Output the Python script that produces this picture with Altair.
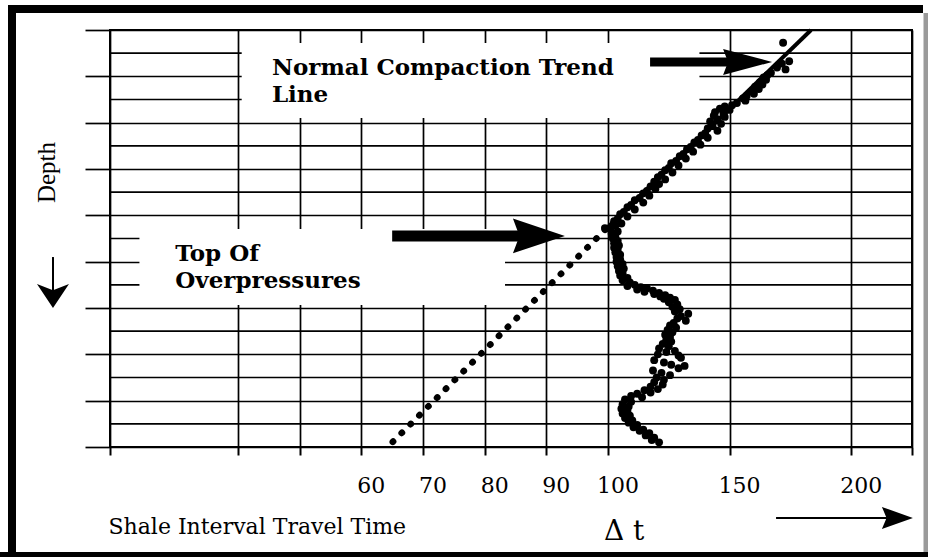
import altair as alt
import pandas as pd

# ---- Sonic log samples: depth (grid units, increasing downward) vs interval transit time ----
# Section that follows the normal compaction trend
normal_depth = [0.55, 1.35, 1.45, 1.62, 1.70, 1.85, 1.95, 2.05, 2.15, 2.25,
                2.35, 2.45, 2.55, 2.65, 2.75, 2.85, 2.95, 3.05, 3.15, 3.25,
                3.30, 3.40, 3.45, 3.55, 3.60, 3.70, 3.75, 3.85, 3.95, 4.05,
                4.15, 4.25, 4.35, 4.45, 4.55, 4.65, 4.75, 4.85, 4.95, 5.05,
                5.15, 5.25, 5.35, 5.45, 5.55, 5.65, 5.75, 5.85, 5.95, 6.05,
                6.15, 6.25, 6.35, 6.45, 6.55, 6.65, 6.75, 6.85, 6.95, 7.05,
                7.15, 7.25, 7.35, 7.45, 7.55, 7.65, 7.75, 7.85, 7.95, 8.05,
                8.15, 8.25, 8.35, 8.45]
normal_dt = [172, 174.5, 171.5, 169.5, 173, 167, 165.5, 164, 165, 162.5,
             163.5, 160.5, 162, 159, 160, 157, 155.5, 156.5, 153, 151,
             148, 146, 150, 144, 147.5, 143.5, 148, 145, 142, 146.5,
             143, 141, 145, 140, 138.5, 141, 137, 135.5, 138, 134,
             132.5, 135, 131, 129.5, 132, 128, 126, 129, 125, 123.5,
             126.5, 122, 120.5, 123.5, 119, 121, 117.5, 119.5, 116, 114.5,
             117, 113, 111, 114.5, 109.5, 108, 111, 106.5, 105, 108,
             104, 102.5, 105.5, 103]

# Section below the top of overpressures
over_depth = [8.55, 8.60, 8.70, 8.80, 8.90, 9.00, 9.10, 9.20, 9.30, 9.40,
              9.50, 9.60, 9.70, 9.80, 9.90, 10.00, 10.10, 10.20, 10.30, 10.40,
              10.50, 10.60, 10.70, 10.80, 10.90, 11.00, 11.05, 11.10, 11.15, 11.20,
              11.25, 11.30, 11.35, 11.40, 11.45, 11.50, 11.55, 11.60, 11.65, 11.75,
              11.85, 11.95, 12.05, 12.15, 12.25, 12.35, 12.45, 12.55, 12.65, 12.75,
              12.85, 12.95, 13.05, 13.15, 13.25, 13.35, 13.45, 13.55, 13.65, 13.75,
              13.85, 13.90, 14.00, 14.05, 14.15, 14.25, 14.35, 14.45, 14.50, 14.60,
              14.70, 14.80, 14.90, 15.00, 15.10, 15.20, 15.30, 15.40, 15.50, 15.55,
              15.65, 15.70, 15.80, 15.85, 15.95, 16.05, 16.15, 16.25, 16.35, 16.45,
              16.55, 16.65, 16.75, 16.85, 16.95, 17.05, 17.15, 17.25, 17.30, 17.40,
              17.50, 17.60, 17.70, 17.80]
over_dt = [99.5, 101, 104, 101.5, 103, 102, 104, 102.5, 104.5, 102.5,
           104, 103, 105, 103.5, 105, 103.5, 106, 104, 106.5, 104.5,
           106, 105, 108, 106, 109, 111, 108, 113.5, 116, 112,
           118.5, 115, 121, 119, 123.5, 121.5, 125.5, 123, 127.5, 125,
           128.5, 126.5, 129.5, 127.5, 133, 130, 128.5, 132, 127, 125.5,
           128, 124.5, 126.5, 123.5, 125.5, 124, 126, 122.5, 125, 121,
           127.5, 124, 120.5, 129, 130, 119, 123, 126, 131.5, 129,
           118.5, 122, 125.5, 120, 123, 119, 122.5, 117.5, 120.5, 115,
           117.5, 112, 109.5, 114, 107, 109.5, 106, 108.5, 105.5, 108,
           106, 109, 107, 110, 108.5, 112, 110.5, 114.5, 113, 117,
           115.5, 119, 118, 121]

# Normal compaction trend: solid where fitted, dotted where extrapolated
trend_dt = [183.5, 100]
trend_depth = [0, 8.5]
extrap_dt = [100, 65.1]
extrap_depth = [8.5, 17.78]

# Axis ticks, labels and grid
x_ticks = [20, 40, 50, 60, 70, 80, 90, 100, 150, 200, 225]
x_labels = [60, 70, 80, 90, 100, 150, 200]
major_depths = [0, 2, 4, 6, 8, 10, 12, 14, 16, 18]
minor_depths = [1, 3, 5, 7, 9, 11, 13, 15, 17]
X_LO, X_HI = 20, 225
DEPTH_MAX = 18

# Piecewise transit-time scale: 40-100 expanded, 100-225 compressed
x_scale = alt.Scale(domain=[20, 40, 100, 225], range=[0, 128, 498, 802], nice=False, zero=False)
y_scale = alt.Scale(domain=[0, DEPTH_MAX], reverse=True, nice=False, zero=False)

x_axis = alt.Axis(
    values=x_ticks, labels=False,
    grid=True, gridColor="black", gridWidth=1.7, gridOpacity=1,
    ticks=True, tickSize=8, tickColor="black", tickWidth=2,
    domain=False,
    title="Shale Interval Travel Time", titleFont="DejaVu Serif", titleFontSize=22,
    titleFontWeight="normal", titleColor="black", titleAnchor="start", titleAlign="left",
    titleBaseline="alphabetic", titleX=-2, titleY=86,
)
y_axis = alt.Axis(
    values=major_depths, grid=True, gridColor="black", gridWidth=1.7, gridOpacity=1,
    ticks=True, tickSize=25, tickColor="black", tickWidth=1.7,
    labels=False, domain=False,
    title="Depth", titleFont="Liberation Serif", titleFontSize=25, titleFontWeight="normal",
    titleColor="black", titleAngle=270, titleAlign="center", titleBaseline="middle",
    titleX=-64, titleY=142,
)

X = alt.X("dt:Q", scale=x_scale, axis=x_axis)
Y = alt.Y("depth:Q", scale=y_scale, axis=y_axis)

samples = pd.concat([
    pd.DataFrame({"dt": normal_dt, "depth": normal_depth}),
    pd.DataFrame({"dt": over_dt, "depth": over_depth}),
])

minor = pd.DataFrame({"dt": X_LO, "dt2": X_HI, "depth": minor_depths})
minor_lines = alt.Chart(minor).mark_rule(color="black", strokeWidth=1.7).encode(
    x=X, x2="dt2:Q", y=Y
)

# Tick labels, set a little to the right of their ticks
tick_labels = alt.Chart(pd.DataFrame({"dt": x_labels, "depth": DEPTH_MAX})).mark_text(
    font="DejaVu Serif", fontSize=22, align="center", baseline="alphabetic",
    color="black", dx=10, dy=46
).encode(x=X, y=Y, text=alt.Text("dt:Q", format="d"))

# White label panels that interrupt the grid
panels = pd.DataFrame({
    "dt": [40.6, 24.6], "dt2": [137.6, 83.3],
    "depth": [0.56, 8.59], "depth2": [3.8, 11.87],
})
panel_rects = alt.Chart(panels).mark_rect(color="white").encode(
    x=X, x2="dt2:Q", y=Y, y2="depth2:Q"
)

trend = alt.Chart(pd.DataFrame({"dt": trend_dt, "depth": trend_depth})).mark_line(
    color="black", strokeWidth=4
).encode(x=X, y=Y)

extrap = alt.Chart(pd.DataFrame({"dt": extrap_dt, "depth": extrap_depth})).mark_line(
    color="black", strokeWidth=6.5, strokeDash=[0.5, 12], strokeCap="round"
).encode(x=X, y=Y)

points = alt.Chart(samples).mark_circle(color="black", opacity=1, size=62).encode(x=X, y=Y)


# Arrows
def shaft(dt0, dt1, depth, width):
    return alt.Chart(pd.DataFrame({"dt": [dt0], "dt2": [dt1], "depth": [depth]})).mark_rule(
        color="black", strokeWidth=width
    ).encode(x=X, x2="dt2:Q", y=Y)


def head(dt, depth, path, size):
    return alt.Chart(pd.DataFrame({"dt": [dt], "depth": [depth]})).mark_point(
        shape=path, size=size, filled=True, color="black", opacity=1, strokeWidth=0
    ).encode(x=X, y=Y)


arrow_trend = shaft(117.3, 154.3, 1.38, 9) + head(157.4, 1.38, "M-1,-0.53L1,0L-1,0.53L-0.8,0Z", 2401)
arrow_top = shaft(65.0, 86.5, 8.89, 11) + head(88.8, 8.89, "M-1,-0.67L1,0L-1,0.67L-0.75,0Z", 2704)
arrow_depth = alt.Chart(pd.DataFrame({"dt": [11.09], "depth": [9.8], "depth2": [11.48]})).mark_rule(
    color="black", strokeWidth=2
).encode(x=X, y=Y, y2="depth2:Q") + head(11.09, 11.48, "M-1,-0.75L0,0.75L1,-0.75L0,-0.35Z", 1024)
arrow_dt = shaft(169.1, 218.0, 21.06, 2) + head(219.0, 21.06, "M-1,-0.71L1,0L-1,0.71L-0.7,0Z", 961)

# Annotations (two-line labels)
notes = pd.DataFrame({
    "dt": [45.5, 30.2],
    "depth": [1.94, 9.96],
    "label": ["Normal Compaction Trend\nLine", "Top Of\nOverpressures"],
})
note_text = alt.Chart(notes).mark_text(
    font="DejaVu Serif", fontSize=23, fontWeight="bold", align="left",
    baseline="alphabetic", color="black", lineBreak="\n", lineHeight=27
).encode(x=X, y=Y, text="label:N")

delta_text = alt.Chart(pd.DataFrame({"dt": [99.35], "depth": [22.01], "label": ["Δ t"]})).mark_text(
    font="DejaVu Serif", fontSize=28, align="left", baseline="alphabetic", color="black"
).encode(x=X, y=Y, text="label:N")

# Page frame
one = pd.DataFrame({"k": [0]})
frame = (
    alt.Chart(one).mark_rule(color="black", strokeWidth=8).encode(
        x=alt.value(-102), x2=alt.value(813), y=alt.value(-21))
    + alt.Chart(one).mark_rule(color="black", strokeWidth=8).encode(
        x=alt.value(-98), y=alt.value(-25), y2=alt.value(530))
    + alt.Chart(one).mark_rule(color="black", strokeWidth=6).encode(
        x=alt.value(-110), x2=alt.value(820), y=alt.value(525))
    + alt.Chart(one).mark_rule(color="#9a9a9a", strokeWidth=5).encode(
        x=alt.value(816), y=alt.value(-17), y2=alt.value(522))
)

chart = alt.layer(
    minor_lines, panel_rects, extrap, trend, points,
    arrow_trend, arrow_top, arrow_depth, arrow_dt,
    note_text, delta_text, tick_labels, frame,
).properties(
    width=802, height=417,
    autosize=alt.AutoSizeParams(type="none"),
    padding={"left": 110, "top": 30, "right": 16, "bottom": 110},
    background="white",
).configure_view(stroke="black", strokeWidth=2)

chart.save("out.html", embed_options={"renderer": "svg", "actions": False})
